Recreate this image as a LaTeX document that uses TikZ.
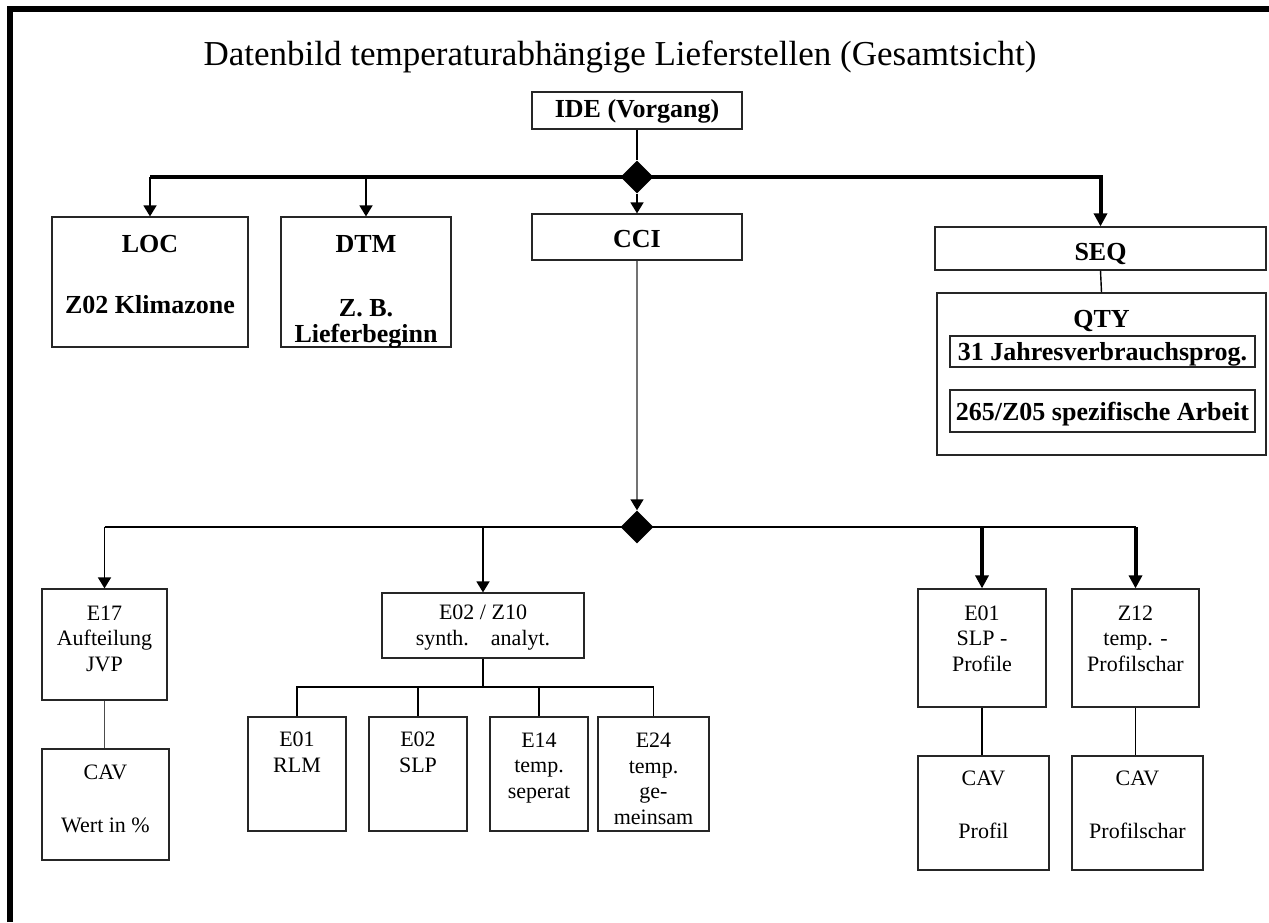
\documentclass[tikz,border=0pt]{standalone}
\usepackage{fontspec}
\setmainfont{Liberation Serif}
\usetikzlibrary{shapes.geometric,arrows.meta}
\begin{document}
\begin{tikzpicture}[x=1pt,y=-1pt,
  box/.style={draw=black!85, line width=1.2pt, rectangle, inner sep=0pt},
  bt/.style={font=\fontsize{26}{22}\selectfont\bfseries, inner sep=0pt, anchor=base, align=center},
  rt/.style={font=\fontsize{22}{25.5}\selectfont, inner sep=0pt, anchor=base, align=center},
  junction/.style={diamond, fill=black, inner sep=0pt, minimum width=33pt, minimum height=33pt},
  thinarr/.style={line width=1.6pt, -{Triangle[length=11pt,width=13pt]}},
  thickarr/.style={line width=4pt, line join=miter, -{Triangle[length=13pt,width=13pt]}},
  greyarr/.style={line width=1.4pt, draw=black!55, -{Triangle[length=11pt,width=13pt,color=black]}},
  link/.style={line width=1.4pt}
]
\useasboundingbox (0,0) rectangle (1269,922);
% outer frame
\draw[line width=6pt, line join=miter] (10,922) -- (10,9) -- (1269,9);

\node[font=\fontsize{35}{35}\selectfont, anchor=base, inner sep=0pt] (title) at (620,65)
  {Datenbild temperaturabhängige Lieferstellen (Gesamtsicht)};

% upper level (multi-line texts are placed by the baseline of their last line)
\node[box, minimum width=210pt, minimum height=37pt] (ide) at (637,110.5) {};
\node[bt] (idet) at (637,117) {IDE (Vorgang)};
\node[junction] (d1) at (637,177) {};
\node[box, minimum width=210pt, minimum height=46pt] (cci) at (637,237) {};
\node[bt] (ccit) at (637,247) {CCI};
\node[box, minimum width=196pt, minimum height=130pt] (loc) at (150,282) {};
\node[bt] (loct) at (150,252) {LOC};
\node[bt] (locz) at (150,313) {Z02 Klimazone};
\node[box, minimum width=170pt, minimum height=130pt] (dtm) at (366,282) {};
\node[bt] (dtmt) at (366,252) {DTM};
\node[bt] (dtmz) at (366,316) {Z. B.};
\node[bt] (dtml) at (366,342) {Lieferbeginn};
\node[box, minimum width=331pt, minimum height=43pt] (seq) at (1100.5,248.5) {};
\node[bt] (seqt) at (1100.5,260) {SEQ};
\node[box, minimum width=329pt, minimum height=162pt] (qty) at (1101.5,374) {};
\node[bt] (qtyt) at (1101.5,327) {QTY};
\node[box, minimum width=305pt, minimum height=31pt] (q31) at (1102.5,351.5) {};
\node[bt] (q31t) at (1102.5,360) {31 Jahresverbrauchsprog.};
\node[box, minimum width=305pt, minimum height=42pt] (q265) at (1102.5,411) {};
\node[bt] (q265t) at (1102.5,420) {265/Z05 spezifische Arbeit};

% lower level
\node[junction] (d2) at (637,527) {};
\node[box, minimum width=125pt, minimum height=111pt] (e17) at (104.5,644.5) {};
\node[rt] (e17t) at (104.5,671) {E17\\Aufteilung\\JVP};
\node[box, minimum width=127pt, minimum height=111pt] (cav1) at (105.5,804.5) {};
\node[rt] (cav1t) at (105.5,779) {CAV};
\node[rt] (cav1v) at (105.5,832) {Wert in \%};

\node[box, minimum width=202pt, minimum height=65pt] (ez) at (483,625.5) {};
\node[rt] (ezt) at (483,645) {E02 / Z10\\synth.\quad analyt.};
\node[box, minimum width=98pt, minimum height=114pt] (ea) at (297,774) {};
\node[rt] (eat) at (297,772) {E01\\RLM};
\node[box, minimum width=98pt, minimum height=114pt] (eb) at (418,774) {};
\node[rt] (ebt) at (418,772) {E02\\SLP};
\node[box, minimum width=98pt, minimum height=114pt] (ec) at (539,774) {};
\node[rt] (ect) at (539,798) {E14\\temp.\\seperat};
\node[box, minimum width=111pt, minimum height=114pt] (ed) at (653.5,774) {};
\node[rt] (edt) at (653.5,824) {E24\\temp.\\ge-\\meinsam};
\coordinate (br) at (483,687);

\node[box, minimum width=128pt, minimum height=118pt] (slp) at (982,648) {};
\node[rt] (slpt) at (982,671) {E01\\SLP -\\Profile};
\node[box, minimum width=127pt, minimum height=118pt] (z12) at (1135.5,648) {};
\node[rt] (z12t) at (1135.5,671) {Z12\\temp. -\\Profilschar};
\node[box, minimum width=131pt, minimum height=114pt] (cav2) at (983.5,813) {};
\node[rt] (cav2t) at (983.5,785) {CAV};
\node[rt] (cav2v) at (983.5,838) {Profil};
\node[box, minimum width=131pt, minimum height=114pt] (cav3) at (1137.5,813) {};
\node[rt] (cav3t) at (1137.5,785) {CAV};
\node[rt] (cav3v) at (1137.5,838) {Profilschar};

% connectors, upper level
\draw[link] (ide.south) -- (d1.north);
\draw[line width=4pt] (d1.center) -- (d1 -| loc.north);
\draw[thickarr] (d1.center) -- (d1 -| seq.north) -- (seq.north);
\draw[thinarr] (d1 -| loc.north) -- (loc.north);
\draw[thinarr] (d1 -| dtm.north) -- (dtm.north);
\draw[thinarr] (d1.south) -- (cci.north);
\draw[link] (seq.south) -- (qty.north);
\draw[greyarr] (cci.south) -- (d2.north);

% connectors, lower level
\draw[link] (d2 -| e17.north) -- (d2 -| z12.north);
\draw[thinarr] (d2 -| e17.north) -- (e17.north);
\draw[thinarr] (d2 -| ez.north) -- (ez.north);
\draw[thickarr] (d2 -| slp.north) -- (slp.north);
\draw[thickarr] (d2 -| z12.north) -- (z12.north);
\draw[link, draw=black!70] (e17.south) -- (cav1.north -| e17.south);
\draw[link] (ez.south) -- (br);
\draw[link] (ea.north) -- (br -| ea.north) -- (br -| ed.north) -- (ed.north);
\draw[link] (br -| eb.north) -- (eb.north);
\draw[link] (br -| ec.north) -- (ec.north);
\draw[link] (slp.south) -- (slp.south |- cav2.north);
\draw[link] (z12.south) -- (z12.south |- cav3.north);
\end{tikzpicture}
\end{document}
